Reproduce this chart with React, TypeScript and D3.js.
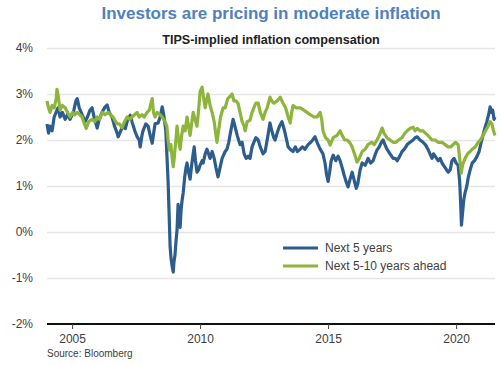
import * as d3 from "d3";
import React, { useRef, useEffect } from "react";

// Next 5 years (breakeven) - year fraction / percent
const next5Years = [
  2004.02, 2004.08, 2004.14, 2004.22, 2004.3, 2004.41, 2004.45, 2004.53, 2004.62, 2004.73, 2004.82, 2004.92,
  2005.05, 2005.15, 2005.2, 2005.28, 2005.39, 2005.51, 2005.6, 2005.7, 2005.78, 2005.88, 2005.98,
  2006.06, 2006.17, 2006.29, 2006.37, 2006.45, 2006.56, 2006.66, 2006.76, 2006.8, 2006.9, 2006.99,
  2007.08, 2007.15, 2007.27, 2007.34, 2007.45, 2007.54, 2007.62, 2007.66, 2007.73, 2007.77, 2007.88, 2007.97,
  2008.05, 2008.13, 2008.2, 2008.24, 2008.36, 2008.44, 2008.52, 2008.58, 2008.66, 2008.71, 2008.75, 2008.79,
  2008.83, 2008.87, 2008.91, 2008.95, 2008.98,
  2009.02, 2009.06, 2009.1, 2009.14, 2009.18, 2009.22, 2009.26, 2009.3, 2009.34, 2009.4, 2009.45, 2009.49,
  2009.55, 2009.61, 2009.67, 2009.73, 2009.77, 2009.82, 2009.88, 2009.94,
  2010.0, 2010.08, 2010.12, 2010.2, 2010.27, 2010.33, 2010.39, 2010.47, 2010.55, 2010.62, 2010.7, 2010.76, 2010.86, 2010.98,
  2011.05, 2011.12, 2011.2, 2011.29, 2011.36, 2011.45, 2011.56, 2011.64, 2011.72, 2011.8, 2011.88, 2011.95,
  2012.03, 2012.1, 2012.18, 2012.27, 2012.35, 2012.46, 2012.54, 2012.62, 2012.73, 2012.8, 2012.88, 2012.93,
  2013.01, 2013.1, 2013.2, 2013.3, 2013.38, 2013.44, 2013.52, 2013.63, 2013.72, 2013.8, 2013.91,
  2014.0, 2014.1, 2014.22, 2014.32, 2014.4, 2014.49, 2014.57, 2014.69, 2014.8, 2014.88, 2014.94,
  2015.0, 2015.06, 2015.12, 2015.2, 2015.3, 2015.39, 2015.47, 2015.55, 2015.62, 2015.7, 2015.78, 2015.86, 2015.94,
  2016.03, 2016.1, 2016.16, 2016.25, 2016.33, 2016.45, 2016.56, 2016.66, 2016.76, 2016.85, 2016.91,
  2017.0, 2017.08, 2017.15, 2017.22, 2017.3, 2017.42, 2017.54, 2017.62, 2017.7, 2017.8, 2017.89, 2017.98,
  2018.09, 2018.2, 2018.32, 2018.4, 2018.48, 2018.59, 2018.71, 2018.8, 2018.9, 2018.98,
  2019.06, 2019.12, 2019.18, 2019.3, 2019.38, 2019.45, 2019.57, 2019.69, 2019.77, 2019.84, 2019.92,
  2020.0, 2020.08, 2020.14, 2020.18, 2020.21, 2020.25, 2020.3, 2020.35, 2020.42, 2020.48, 2020.55, 2020.63, 2020.72, 2020.82, 2020.9, 2020.98,
  2021.05, 2021.12, 2021.2, 2021.27, 2021.33, 2021.38, 2021.43, 2021.48, 2021.52,
];
const next5Values = [
  2.35, 2.15, 2.3, 2.2, 2.5, 2.65, 2.7, 2.5, 2.6, 2.45, 2.55, 2.45,
  2.6, 2.85, 2.9, 2.7, 2.55, 2.4, 2.5, 2.65, 2.7, 2.45, 2.26,
  2.45, 2.6, 2.72, 2.76, 2.6, 2.5, 2.3, 2.15, 2.07, 2.2, 2.3,
  2.25, 2.4, 2.54, 2.4, 2.2, 2.07, 2.0, 1.85, 2.1, 2.2, 2.35, 2.3,
  2.1, 1.93, 2.2, 2.35, 2.37, 2.5, 2.72, 2.55, 2.2, 1.6, 1.1, 0.4,
  -0.33, -0.6, -0.75, -0.87, -0.65,
  -0.5, -0.2, 0.05, 0.6, 0.3, 0.1, 0.5, 0.7, 0.85, 1.2, 1.4, 1.5,
  1.3, 1.15, 1.45, 1.7, 1.85, 1.55, 1.3, 1.35,
  1.45, 1.55, 1.5, 1.7, 1.8, 1.7, 1.6, 1.75, 1.6, 1.4, 1.2, 1.35, 1.6, 1.75,
  1.8, 1.95, 2.2, 2.45, 2.3, 2.1, 1.9, 1.95, 1.7, 1.6, 1.65, 1.6,
  1.85, 1.95, 2.05, 2.0, 1.85, 1.7, 1.75, 2.0, 2.37, 2.2, 2.05, 2.0,
  2.15, 2.3, 2.4, 2.2, 2.0, 1.85, 1.8, 1.75, 1.85, 1.75, 1.8,
  1.85, 1.8, 1.9, 1.95, 2.0, 2.07, 1.95, 1.8, 1.7, 1.5, 1.25,
  1.1, 1.3, 1.55, 1.67, 1.55, 1.65, 1.55, 1.4, 1.25, 1.1, 0.98, 1.15, 1.3,
  1.1, 0.95, 1.05, 1.35, 1.5, 1.45, 1.6, 1.5, 1.55, 1.7, 1.78,
  1.85, 1.95, 2.0, 1.9, 1.8, 1.7, 1.6, 1.6, 1.55, 1.65, 1.75, 1.8,
  1.9, 1.95, 2.0, 2.05, 2.07, 2.0, 1.95, 1.9, 1.8, 1.7,
  1.6, 1.7, 1.65, 1.55, 1.6, 1.5, 1.4, 1.3, 1.35, 1.55, 1.6,
  1.5, 1.45, 1.1, 0.6, 0.15, 0.4, 0.7, 0.85, 1.0, 1.2, 1.35, 1.5, 1.55, 1.65, 1.75, 1.95,
  2.1, 2.25, 2.4, 2.55, 2.72, 2.6, 2.65, 2.45, 2.5,
];

// Next 5-10 years ahead (forward breakeven)
const next510Years = [
  2004.02, 2004.08, 2004.14, 2004.22, 2004.3, 2004.38, 2004.41, 2004.46, 2004.53, 2004.62, 2004.73, 2004.82, 2004.92,
  2005.02, 2005.1, 2005.2, 2005.3, 2005.39, 2005.48, 2005.55, 2005.65, 2005.78, 2005.88, 2005.98,
  2006.08, 2006.17, 2006.29, 2006.41, 2006.5, 2006.6, 2006.7, 2006.76, 2006.85, 2006.95,
  2007.05, 2007.15, 2007.25, 2007.34, 2007.44, 2007.54, 2007.62, 2007.73, 2007.82, 2007.93,
  2008.02, 2008.08, 2008.13, 2008.18, 2008.24, 2008.32, 2008.44, 2008.52, 2008.63, 2008.7, 2008.75, 2008.8,
  2008.86, 2008.91, 2008.95, 2008.99,
  2009.02, 2009.07, 2009.1, 2009.16, 2009.22, 2009.28, 2009.34, 2009.42, 2009.49, 2009.55, 2009.61, 2009.68,
  2009.73, 2009.8, 2009.88, 2009.95,
  2010.0, 2010.08, 2010.14, 2010.2, 2010.27, 2010.31, 2010.39, 2010.47, 2010.55, 2010.62, 2010.66, 2010.72, 2010.8, 2010.9, 2010.98,
  2011.08, 2011.18, 2011.25, 2011.32, 2011.4, 2011.48, 2011.56, 2011.64, 2011.72, 2011.76, 2011.84, 2011.95,
  2012.03, 2012.1, 2012.18, 2012.27, 2012.35, 2012.46, 2012.54, 2012.62, 2012.73, 2012.8, 2012.88,
  2013.01, 2013.13, 2013.24, 2013.34, 2013.44, 2013.52, 2013.58, 2013.63, 2013.75, 2013.91,
  2014.05, 2014.18, 2014.3, 2014.45, 2014.57, 2014.69, 2014.75, 2014.8, 2014.9,
  2015.0, 2015.08, 2015.2, 2015.35, 2015.47, 2015.55, 2015.65, 2015.74, 2015.84, 2015.94,
  2016.03, 2016.13, 2016.22, 2016.33, 2016.45, 2016.56, 2016.7, 2016.8, 2016.91,
  2017.0, 2017.11, 2017.18, 2017.3, 2017.42, 2017.54, 2017.65, 2017.75, 2017.89,
  2018.0, 2018.09, 2018.2, 2018.32, 2018.4, 2018.48, 2018.59, 2018.71, 2018.8, 2018.9, 2018.98,
  2019.06, 2019.18, 2019.3, 2019.45, 2019.57, 2019.69, 2019.8, 2019.88, 2019.98,
  2020.08, 2020.14, 2020.2, 2020.25, 2020.35, 2020.45, 2020.55, 2020.63, 2020.75, 2020.86, 2020.95,
  2021.05, 2021.15, 2021.25, 2021.33, 2021.4, 2021.46, 2021.52,
];
const next510Values = [
  2.85, 2.7, 2.6, 2.75, 2.7, 2.9, 3.1, 2.95, 2.65, 2.75, 2.7, 2.6, 2.5,
  2.6, 2.55, 2.6, 2.55, 2.5, 2.35, 2.25, 2.4, 2.45, 2.4, 2.5,
  2.45, 2.6, 2.55, 2.6, 2.55, 2.5, 2.4, 2.35, 2.35, 2.27,
  2.4, 2.5, 2.45, 2.5, 2.55, 2.6, 2.5, 2.55, 2.5, 2.6,
  2.65, 2.8, 2.9, 2.6, 2.5, 2.6, 2.55, 2.5, 2.4, 2.3, 2.0, 1.78,
  1.9, 1.6, 1.42, 1.6,
  1.8, 2.1, 2.3, 2.0, 1.8, 2.1, 2.3, 2.2, 2.5, 2.3, 2.1, 2.4,
  2.6, 2.45, 2.3, 2.7,
  3.05, 3.15, 2.9, 2.7, 2.9, 3.0, 2.75, 2.6, 2.4, 2.1, 1.95, 2.2, 2.5, 2.7, 2.7,
  2.9, 2.95, 3.0, 2.85, 2.85, 2.8, 2.6, 2.4, 2.3, 2.2, 2.4, 2.43,
  2.6, 2.7, 2.8, 2.8, 2.6, 2.45, 2.6, 2.7, 2.93, 2.85, 2.8,
  2.85, 2.93, 2.8, 2.7, 2.5, 2.37, 2.6, 2.75, 2.7, 2.7,
  2.65, 2.6, 2.55, 2.5, 2.5, 2.6, 2.45, 2.2, 2.05,
  2.0, 1.89, 2.05, 2.1, 2.2, 2.1, 2.0, 2.0, 1.95, 1.85,
  1.7, 1.52, 1.6, 1.75, 1.8, 1.9, 1.95, 1.9, 2.0,
  2.1, 2.26, 2.15, 2.05, 2.0, 1.95, 1.95, 2.0, 2.05,
  2.15, 2.2, 2.25, 2.28, 2.2, 2.25, 2.2, 2.2, 2.15, 2.1, 2.05,
  2.0, 2.0, 1.95, 1.95, 1.9, 1.85, 1.85, 1.9, 1.95,
  1.9, 1.6, 1.28, 1.45, 1.6, 1.7, 1.75, 1.8, 1.85, 1.95, 2.0,
  2.1, 2.2, 2.3, 2.4, 2.35, 2.2, 2.1,
];

const yTicks = [-2, -1, 0, 1, 2, 3, 4];
const xTicks = [2005, 2010, 2015, 2020];
const seriesNames = ["Next 5 years", "Next 5-10 years ahead"];
const seriesColors = ["#2d5d8c", "#8db53c"];

const FONT = "Liberation Sans, Arial, sans-serif";

const App = () => {
  const svgRef = useRef<SVGSVGElement>(null);

  useEffect(() => {
    const svg = d3.select(svgRef.current);
    svg.selectAll("*").remove();

    const width = 500;
    const height = 365;
    const margin = { top: 48, right: 5, bottom: 41, left: 47 };

    const x = d3
      .scaleLinear()
      .domain([2004.02, 2021.52])
      .range([margin.left, width - margin.right]);
    const y = d3
      .scaleLinear()
      .domain([-2, 4])
      .range([height - margin.bottom, margin.top]);

    // titles
    svg
      .append("text")
      .attr("x", 271)
      .attr("y", 19)
      .attr("text-anchor", "middle")
      .style("font-family", FONT)
      .style("font-size", "17px")
      .style("font-weight", "bold")
      .style("fill", "#4f81bd")
      .text("Investors are pricing in moderate inflation");

    svg
      .append("text")
      .attr("x", 271)
      .attr("y", 44)
      .attr("text-anchor", "middle")
      .style("font-family", FONT)
      .style("font-size", "12.6px")
      .style("font-weight", "bold")
      .style("fill", "#222")
      .text("TIPS-implied inflation compensation");

    // gridlines
    const grid = svg
      .append("g")
      .attr("transform", `translate(${margin.left},0)`)
      .call(
        d3
          .axisLeft(y)
          .tickValues(yTicks.slice(1))
          .tickSize(-(width - margin.left - margin.right))
          .tickFormat(() => "")
      );
    grid.select(".domain").remove();
    grid.selectAll(".tick line").attr("stroke", "#e6e6e6").attr("stroke-width", 1.5);

    // y labels
    svg
      .append("g")
      .selectAll("text")
      .data(yTicks)
      .enter()
      .append("text")
      .attr("x", 33)
      .attr("y", (d) => y(d))
      .attr("dy", "0.35em")
      .attr("text-anchor", "end")
      .style("font-family", FONT)
      .style("font-size", "12px")
      .style("fill", "#404040")
      .text((d) => d + "%");

    // x axis
    const xAxis = svg
      .append("g")
      .attr("transform", `translate(0,${y(-2)})`)
      .call(
        d3
          .axisBottom(x)
          .tickValues(xTicks)
          .tickSize(5)
          .tickPadding(5)
          .tickFormat((d) => String(d))
      );
    xAxis.select(".domain").attr("stroke", "#111").attr("stroke-width", 2).attr("d", `M${margin.left},0H${width - margin.right}`);
    xAxis.selectAll(".tick line").attr("stroke", "#444");
    xAxis
      .selectAll(".tick text")
      .style("font-family", FONT)
      .style("font-size", "12px")
      .style("fill", "#404040");

    // lines
    const line = d3
      .line<[number, number]>()
      .x((d) => x(d[0]))
      .y((d) => y(d[1]));

    const series: [number, number][][] = [
      next5Years.map((t, i) => [t, next5Values[i]] as [number, number]),
      next510Years.map((t, i) => [t, next510Values[i]] as [number, number]),
    ];

    series.forEach((s, i) => {
      svg
        .append("path")
        .datum(s)
        .attr("d", line)
        .attr("fill", "none")
        .attr("stroke", seriesColors[i])
        .attr("stroke-width", 3.2)
        .attr("stroke-linejoin", "round");
    });

    // legend
    const legend = svg.append("g").attr("transform", "translate(283,248)");
    seriesNames.forEach((name, i) => {
      legend
        .append("line")
        .attr("x1", 0)
        .attr("x2", 35)
        .attr("y1", i * 18)
        .attr("y2", i * 18)
        .attr("stroke", seriesColors[i])
        .attr("stroke-width", 3);
      legend
        .append("text")
        .attr("x", 42)
        .attr("y", i * 18)
        .attr("dy", "0.35em")
        .style("font-family", FONT)
        .style("font-size", "12px")
        .style("fill", "#404040")
        .text(name);
    });

    // source
    svg
      .append("text")
      .attr("x", 47)
      .attr("y", 357)
      .style("font-family", FONT)
      .style("font-size", "10px")
      .style("fill", "#404040")
      .text("Source: Bloomberg");
  }, []);

  return (
    <div style={{ position: "absolute", left: 0, top: 0 }}>
      <svg ref={svgRef} width={500} height={365} style={{ display: "block" }}></svg>
    </div>
  );
};

export default App;
